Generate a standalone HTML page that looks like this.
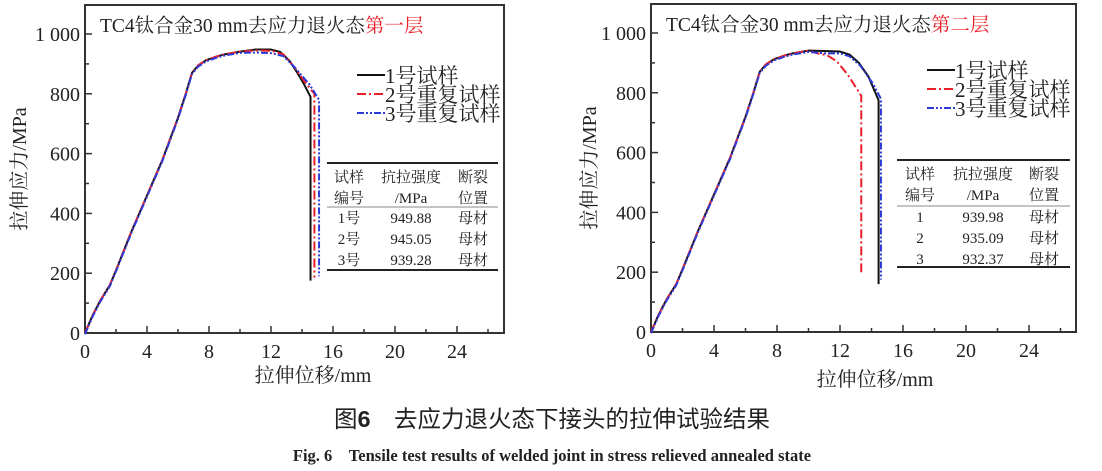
<!DOCTYPE html>
<html><head><meta charset="utf-8"><style>
html,body{margin:0;padding:0;background:#fff;}
svg{display:block;}
text{font-family:"Liberation Serif","Noto Serif CJK SC",serif;fill:#222;}
</style></head><body>
<svg id="s" width="1102" height="471" viewBox="0 0 1102 471" xmlns="http://www.w3.org/2000/svg">
<text x="552" y="427" font-size="23.5" text-anchor="middle" style="font-family:'Liberation Sans','Noto Sans CJK SC',sans-serif">图<tspan font-weight="bold">6</tspan>　去应力退火态下接头的拉伸试验结果</text>
<text x="552" y="461" font-size="16.5" font-weight="bold" text-anchor="middle">Fig. 6　Tensile test results of welded joint in stress relieved annealed state</text>
</svg>
<script>
const S=document.getElementById('s');const NS='http://www.w3.org/2000/svg';
function el(t,a,txt){const e=document.createElementNS(NS,t);for(const k in a)e.setAttribute(k,a[k]);if(txt!==undefined)e.textContent=txt;S.appendChild(e);return e;}
function chart(c){
 const X=v=>c.x0+v*c.sx, Y=v=>c.y0-v*c.sy;
 el('rect',{x:c.L,y:c.T,width:c.R-c.L,height:c.y0-c.T,fill:'none',stroke:'#333','stroke-width':2});
 for(let v=0;v<=26;v+=2){const maj=v%4==0;el('line',{x1:X(v),x2:X(v),y1:c.y0,y2:c.y0-(maj?7:4),stroke:'#333','stroke-width':1.5});
  if(maj)el('text',{x:X(v),y:c.y0+25,'font-size':20,'text-anchor':'middle'},v);}
 for(let v=0;v<=1050;v+=100){const maj=v%200==0;el('line',{x1:c.L,x2:c.L+(maj?7:4),y1:Y(v),y2:Y(v),stroke:'#333','stroke-width':1.5});
  if(maj)el('text',{x:c.L-5,y:Y(v)+7,'font-size':20,'text-anchor':'end'},v==1000?'1 000':v);}
 el('text',{x:c.xt,y:c.xty,'font-size':20,'text-anchor':'middle'},'拉伸位移/mm');
 el('text',{x:0,y:0,'font-size':20,'text-anchor':'middle',transform:`translate(${c.yt},${(c.T+c.y0)/2}) rotate(-90)`},'拉伸应力/MPa');
 const t=el('text',{x:c.L+15,y:c.T+27,'font-size':19.5},c.title);
 const ts=document.createElementNS(NS,'tspan');ts.setAttribute('fill','#e8202a');ts.style.fill='#e8202a';ts.textContent=c.red;t.appendChild(ts);
 const st=[{s:'#111',d:''},{s:'#e8202a',d:'9,3,2,3'},{s:'#2a3bd8',d:'7,2,2,2,2,2'}];
 c.curves.forEach((p,i)=>{el('polyline',{points:p.map(q=>X(q[0])+','+Y(q[1])).join(' '),fill:'none',stroke:st[i].s,'stroke-width':2,'stroke-dasharray':st[i].d,'stroke-linejoin':'round'});});
 const lg=['1号试样','2号重复试样','3号重复试样'];
 lg.forEach((s,i)=>{const y=c.lgy+i*19;el('line',{x1:c.lgx,x2:c.lgx+28,y1:y,y2:y,stroke:st[i].s,'stroke-width':2,'stroke-dasharray':st[i].d});
  el('text',{x:c.lgx+28,y:y+8,'font-size':21},s);});
 const tb=c.tb;
 el('line',{x1:tb.l,x2:tb.r,y1:tb.t,y2:tb.t,stroke:'#222','stroke-width':2});
 el('line',{x1:tb.l,x2:tb.r,y1:tb.m,y2:tb.m,stroke:'#888','stroke-width':1});
 el('line',{x1:tb.l,x2:tb.r,y1:tb.b,y2:tb.b,stroke:'#222','stroke-width':2});
 const hd=[['试样','抗拉强度','断裂'],['编号','/MPa','位置']];
 hd.forEach((r,ri)=>r.forEach((s,ci)=>el('text',{x:tb.c[ci],y:tb.t+19+ri*21,'font-size':15,'text-anchor':'middle'},s)));
 tb.rows.forEach((r,ri)=>r.forEach((s,ci)=>el('text',{x:tb.c[ci],y:tb.m+16+ri*21,'font-size':15,'text-anchor':'middle'},s)));
}
const rise=[[0,0],[0.5,60],[1,110],[1.6,160],[2,210],[3,340],[4,460],[5,580],[6,720],[6.5,800],[6.9,870],[7.3,895],[7.8,912],[8.5,925],[9,932],[10,941]];
chart({L:85,R:504,T:5,x0:85,y0:333,sx:15.5,sy:0.299,xt:313,xty:382,yt:26,title:'TC4钛合金30 mm去应力退火态',red:'第一层',
 curves:[rise.concat([[11,948],[12,948],[12.6,940],[13.2,910],[13.7,870],[14.1,835],[14.55,790],[14.55,175]]),
  rise.concat([[11,945],[12,944],[12.8,932],[13.5,890],[14.1,845],[14.8,800],[14.8,185]]),
  rise.map(p=>[p[0],p[1]-4]).concat([[11,938],[12,936],[12.8,926],[13.5,890],[14.5,830],[15.1,780],[15.1,190]])],
 lgx:357,lgy:75,
 tb:{l:327,r:498,t:163,m:207,b:270,c:[349,411,473],rows:[['1号','949.88','母材'],['2号','945.05','母材'],['3号','939.28','母材']]}});
chart({L:651,R:1076,T:4,x0:651,y0:332,sx:15.75,sy:0.299,xt:875,xty:386,yt:596,title:'TC4钛合金30 mm去应力退火态',red:'第二层',
 curves:[rise.concat([[11,940],[12,938],[12.6,928],[13.2,900],[13.8,855],[14.45,775],[14.45,160]]),
  rise.concat([[10.5,933],[11.2,925],[11.8,905],[12.5,860],[13.35,790],[13.35,200]]),
  rise.map(p=>[p[0],p[1]-4]).concat([[11,932],[12,932],[12.6,922],[13.3,890],[14.1,830],[14.6,780],[14.6,175]])],
 lgx:927,lgy:70,
 tb:{l:897,r:1070,t:160,m:206,b:267,c:[920,983,1044],rows:[['1','939.98','母材'],['2','935.09','母材'],['3','932.37','母材']]}});
</script>
</body></html>
